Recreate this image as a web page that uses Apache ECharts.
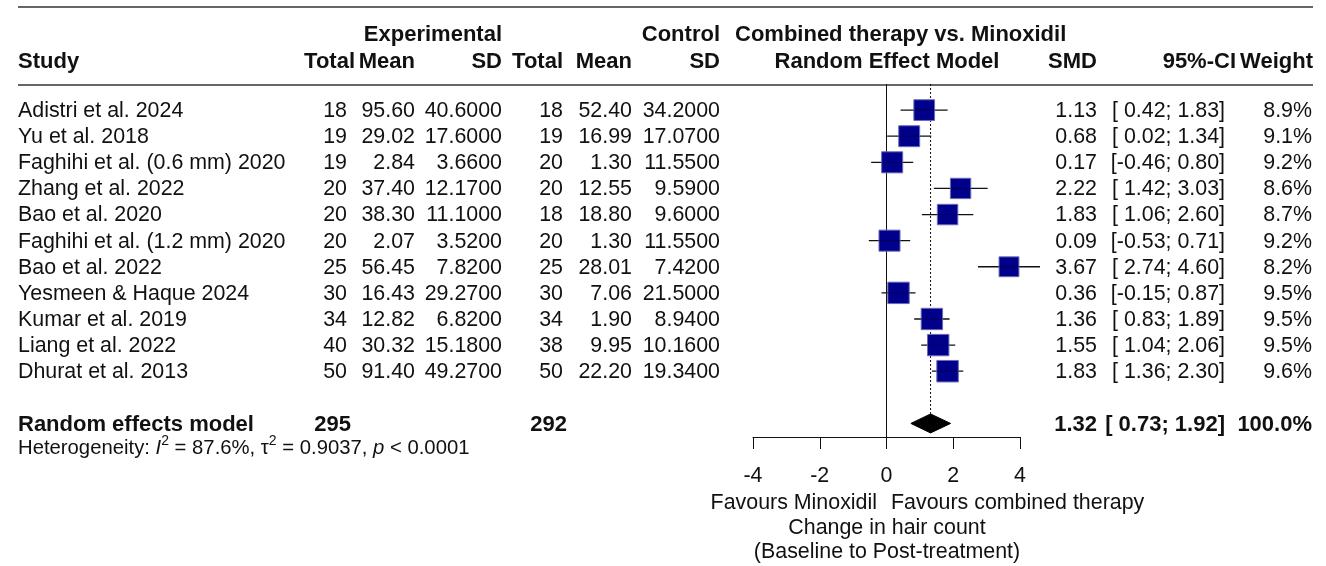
<!DOCTYPE html>
<html>
<head>
<meta charset="utf-8">
<script src="https://cdn.jsdelivr.net/npm/echarts@6/dist/echarts.min.js"></script>
<style>html,body{margin:0;padding:0;background:#fff;}#c{width:1326px;height:566px;}</style>
</head>
<body>
<div id="c"></div>
<script>
const studies = ['Adistri et al. 2024','Yu et al. 2018','Faghihi et al. (0.6 mm) 2020','Zhang et al. 2022','Bao et al. 2020','Faghihi et al. (1.2 mm) 2020','Bao et al. 2022','Yesmeen & Haque 2024','Kumar et al. 2019','Liang et al. 2022','Dhurat et al. 2013'];
const expTotal = [18,19,19,20,20,20,25,30,34,40,50];
const expMean = [95.60,29.02,2.84,37.40,38.30,2.07,56.45,16.43,12.82,30.32,91.40];
const expSD = [40.6,17.6,3.66,12.17,11.1,3.52,7.82,29.27,6.82,15.18,49.27];
const ctlTotal = [18,19,20,20,18,20,25,30,34,38,50];
const ctlMean = [52.40,16.99,1.30,12.55,18.80,1.30,28.01,7.06,1.90,9.95,22.20];
const ctlSD = [34.2,17.07,11.55,9.59,9.6,11.55,7.42,21.5,8.94,10.16,19.34];
const smd = [1.13,0.68,0.17,2.22,1.83,0.09,3.67,0.36,1.36,1.55,1.83];
const lower = [0.42,0.02,-0.46,1.42,1.06,-0.53,2.74,-0.15,0.83,1.04,1.36];
const upper = [1.83,1.34,0.80,3.03,2.60,0.71,4.60,0.87,1.89,2.06,2.30];
const weight = [8.9,9.1,9.2,8.6,8.7,9.2,8.2,9.5,9.5,9.5,9.6];
const pooled = {smd:1.32, lower:0.73, upper:1.92, weight:100.0, expN:295, ctlN:292};
const xTicks = [-4,-2,0,2,4];

const FONT = '"Liberation Sans", Arial, sans-serif';
const FS = 21.4;
const FSB = 22;
const TXT = '#111';
const POOLED_ROW = 12;
const HET_ROW = 12.9;

const COL = {study:18, eTot:347, eTotH:355, eMean:415, eSD:502, cTot:563, cMean:632, cSD:720, smd:1097, ci:1225, ciH:1236, w:1312};

function ciText(l,u){
  const f = v => { const s = v.toFixed(2); return v < 0 ? s : ' ' + s; };
  return '[' + f(l) + '; ' + u.toFixed(2) + ']';
}
function t(x,y,text,align,bold,size){
  return {type:'text', x:x, y:y, silent:true,
    style:{text:text, fill:TXT, fontSize:size||(bold?FSB:FS), fontFamily:FONT, fontWeight:bold?'bold':'normal', align:align||'left', verticalAlign:'middle'}};
}

const chart = echarts.init(document.getElementById('c'), null, {renderer:'canvas'});

const studyData = smd.map((v,i)=>[v, i, lower[i], upper[i], weight[i]]);
const tableData = studies.map((s,i)=>[0,i]);

const option = {
  animation:false,
  backgroundColor:'#fff',
  grid:{left:753, right:306, top:84, bottom:129},
  xAxis:{type:'value', min:-4, max:4, interval:2, position:'bottom',
    splitLine:{show:false},
    axisLine:{show:true, onZero:false, lineStyle:{color:'#111', width:1}},
    axisTick:{show:true, length:12, lineStyle:{color:'#111', width:1}},
    axisLabel:{fontSize:FS, color:TXT, fontFamily:FONT, margin:29,
      formatter: v => xTicks.indexOf(v) >= 0 ? String(v) : ''}},
  yAxis:{type:'value', inverse:true, min:-1, max:12.52, show:false},
  series:[
    {
      type:'custom', clip:false, silent:true,
      data:[[0,-1,12.52,0],[pooled.smd,-1,POOLED_ROW-0.37,1]],
      renderItem:(params, api)=>{
        const p1 = api.coord([api.value(0), api.value(1)]);
        const p2 = api.coord([api.value(0), api.value(2)]);
        const dotted = api.value(3) === 1;
        return {type:'line', shape:{x1:p1[0], y1:p1[1], x2:p2[0], y2:p2[1]},
          style:{stroke:'#111', lineWidth:1, lineDash: dotted ? [2,2] : null}};
      }
    },
    {
      type:'custom', clip:false, silent:true,
      data:studyData,
      renderItem:(params, api)=>{
        const c = api.coord([api.value(0), api.value(1)]);
        const a = api.coord([api.value(2), api.value(1)]);
        const b = api.coord([api.value(3), api.value(1)]);
        const s = 21.5*Math.sqrt(api.value(4)/9.6);
        return {type:'group', children:[
          {type:'line', shape:{x1:a[0], y1:a[1], x2:b[0], y2:b[1]}, style:{stroke:'#111', lineWidth:1.3}},
          {type:'rect', shape:{x:c[0]-s/2, y:c[1]-s/2, width:s, height:s}, style:{fill:'#00008b', stroke:'#6a6ab8', lineWidth:1}},
          {type:'line', shape:{x1:c[0]-s/2, y1:c[1], x2:c[0]+s/2, y2:c[1]}, style:{stroke:'#000030', lineWidth:1, opacity:0.6}}
        ]};
      }
    },
    {
      type:'custom', clip:false, silent:true,
      data:[[pooled.smd, POOLED_ROW, pooled.lower, pooled.upper]],
      renderItem:(params, api)=>{
        const c = api.coord([api.value(0), api.value(1)]);
        const a = api.coord([api.value(2), api.value(1)]);
        const b = api.coord([api.value(3), api.value(1)]);
        const h = 9.5;
        return {type:'polygon', shape:{points:[[a[0],c[1]],[c[0],c[1]-h],[b[0],c[1]],[c[0],c[1]+h]]}, style:{fill:'#000', stroke:'#000', lineWidth:1}};
      }
    },
    {
      type:'custom', clip:false, silent:true,
      data:tableData,
      renderItem:(params, api)=>{
        const i = params.dataIndex;
        const y = api.coord([0, api.value(1)])[1] + 1;
        return {type:'group', children:[
          t(COL.study, y, studies[i], 'left'),
          t(COL.eTot, y, String(expTotal[i]), 'right'),
          t(COL.eMean, y, expMean[i].toFixed(2), 'right'),
          t(COL.eSD, y, expSD[i].toFixed(4), 'right'),
          t(COL.cTot, y, String(ctlTotal[i]), 'right'),
          t(COL.cMean, y, ctlMean[i].toFixed(2), 'right'),
          t(COL.cSD, y, ctlSD[i].toFixed(4), 'right'),
          t(COL.smd, y, smd[i].toFixed(2), 'right'),
          t(COL.ci, y, ciText(lower[i], upper[i]), 'right'),
          t(COL.w, y, weight[i].toFixed(1) + '%', 'right')
        ]};
      }
    },
    {
      type:'custom', clip:false, silent:true,
      data:[[0, POOLED_ROW, HET_ROW]],
      renderItem:(params, api)=>{
        const y = api.coord([0, api.value(1)])[1] + 2;
        const yh = api.coord([0, api.value(2)])[1] + 1;
        return {type:'group', children:[
          t(COL.study, y, 'Random effects model', 'left', true),
          t(COL.eTot+4, y, String(pooled.expN), 'right', true),
          t(COL.cTot+4, y, String(pooled.ctlN), 'right', true),
          t(COL.smd, y, pooled.smd.toFixed(2), 'right', true),
          t(COL.ci, y, ciText(pooled.lower, pooled.upper), 'right', true),
          t(COL.w, y, pooled.weight.toFixed(1) + '%', 'right', true),
          {type:'text', x:COL.study, y:yh, silent:true, style:{
            text:'{a|Heterogeneity: }{i|I}{s|2}{a| = 87.6%, τ}{s|2}{a| = 0.9037, }{i|p}{a| < 0.0001}',
            fill:TXT, fontFamily:FONT, fontSize:20.3, align:'left', verticalAlign:'middle',
            rich:{
              a:{fontSize:20.3, fontFamily:FONT, fill:TXT},
              i:{fontSize:20.3, fontFamily:FONT, fontStyle:'italic', fill:TXT},
              s:{fontSize:14, fontFamily:FONT, fill:TXT, padding:[0,0,13,0]}
            }}}
        ]};
      }
    }
  ],
  graphic:[
    {type:'line', silent:true, shape:{x1:18, y1:7, x2:1313, y2:7}, style:{stroke:'#333', lineWidth:1.5}},
    {type:'line', silent:true, shape:{x1:18, y1:85, x2:1313, y2:85}, style:{stroke:'#333', lineWidth:1.5}},
    t(COL.eSD, 35, 'Experimental', 'right', true),
    t(COL.cSD, 35, 'Control', 'right', true),
    t(735, 35, 'Combined therapy vs. Minoxidil', 'left', true),
    t(COL.study, 62, 'Study', 'left', true),
    t(COL.eTotH, 62, 'Total', 'right', true),
    t(COL.eMean, 62, 'Mean', 'right', true),
    t(COL.eSD, 62, 'SD', 'right', true),
    t(COL.cTot, 62, 'Total', 'right', true),
    t(COL.cMean, 62, 'Mean', 'right', true),
    t(COL.cSD, 62, 'SD', 'right', true),
    t(887, 62, 'Random Effect Model', 'center', true),
    t(COL.smd, 62, 'SMD', 'right', true),
    t(COL.ciH, 62, '95%-CI', 'right', true),
    t(COL.w + 1, 62, 'Weight', 'right', true),
    t(877, 503, 'Favours Minoxidil', 'right'),
    t(891, 503, 'Favours combined therapy', 'left'),
    t(887, 528, 'Change in hair count', 'center'),
    t(887, 552, '(Baseline to Post-treatment)', 'center')
  ]
};
chart.setOption(option);
</script>
</body>
</html>
